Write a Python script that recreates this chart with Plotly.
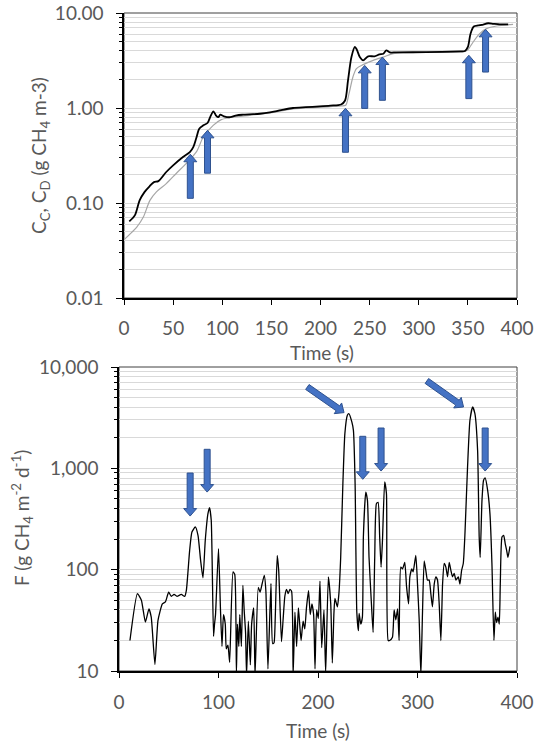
import math
import plotly.graph_objects as go

# ---------------- data ----------------
cc_time = [5.4, 11, 16, 21, 26, 30.5, 35, 43, 50, 60, 67, 70.5, 73.5, 76.6, 80.7, 85, 88, 91, 93.5, 96, 98,
           101.7, 108, 114.6, 121, 131.5, 138, 148.5, 160, 172, 185, 199, 210, 221, 225, 228, 231.5, 235, 237,
           240, 243.4, 248.5, 255, 260, 264, 267, 270.5, 277, 308, 342, 347, 350, 352.7, 356, 360.5, 364,
           370.7, 376, 382.6, 391]
cc_value = [0.064, 0.074, 0.107, 0.131, 0.15, 0.166, 0.17, 0.212, 0.249, 0.305, 0.344, 0.388, 0.48, 0.606,
            0.657, 0.695, 0.817, 0.923, 0.837, 0.80, 0.85, 0.817, 0.80, 0.837, 0.85, 0.86, 0.87, 0.90, 0.95,
            1.0, 1.02, 1.04, 1.06, 1.09, 1.20, 1.955, 3.44, 4.39, 4.11, 3.44, 3.17, 3.5, 3.5, 3.67, 3.73, 4.05,
            3.85, 3.85, 3.88, 3.95, 3.98, 4.39, 6.06, 7.2, 7.4, 7.5, 7.8, 7.7, 7.6, 7.6]

cd_time = [0, 6, 13, 19.7, 26.4, 33, 43, 53.6, 63.7, 74, 80.7, 90.8, 99, 111, 128, 148.5, 172, 200, 221,
           225.7, 229, 233, 236.6, 243.4, 253.6, 263.8, 274, 284, 308, 347, 350, 355.4, 362, 369, 379, 396]
cd_value = [0.041, 0.047, 0.0558, 0.0712, 0.1066, 0.131, 0.16, 0.207, 0.263, 0.35, 0.495, 0.657, 0.754,
            0.80, 0.837, 0.886, 0.98, 1.02, 1.05, 1.07, 1.415, 2.12, 2.6, 2.86, 3.17, 3.44, 3.73, 3.82, 3.85,
            3.95, 4.11, 4.95, 6.06, 6.85, 7.3, 7.6]

f_time = [11, 18.5, 22.5, 26.5, 30.1, 32.4, 36.1, 39.2, 43.6, 46.6, 49.9, 52.6, 55.3, 58.3, 62.6, 66, 67.7,
          71, 73.3, 76.7, 79.4, 82, 84.4, 86.7, 89.4, 91, 92.7, 95, 96, 97, 100, 102, 103.5, 105, 106.8, 107.8,
          109.5, 111.2, 114.6, 116.3, 118, 119, 120.4, 121.4, 123, 124.5, 125.8, 127.2, 128.2, 130, 132, 133.3,
          135.4, 136.7, 140, 141.8, 143.5, 146, 147.6, 149.7, 152.7, 154.4, 155.8, 157, 159, 160.5, 163.3, 165,
          166.7, 168.4, 170, 171.8, 173.5, 175, 176.8, 178.5, 180.3, 181.6, 183, 185, 186.7, 188.4, 190.5,
          192.2, 193.9, 195.6, 197, 198.6, 200.3, 202, 203.7, 206, 207.7, 210.4, 212.8, 214.4, 216, 217,
          219.5, 221, 222.8, 225, 227, 229.5, 231, 234, 235.6, 237.3, 239, 240.6, 241.3, 243, 244.6, 245.6,
          248, 249.7, 251.3, 253.7, 255.4, 257, 258.7, 260.4, 262, 263.4, 264.8, 267, 268.8, 270.5, 272,
          274.8, 276.5, 278.2, 280, 281.5, 283.2, 285, 287.2, 289, 291, 292.3, 294.3, 295.6, 298.3, 300,
          301.7, 303.4, 305, 306.7, 308.4, 310, 311.7, 313.4, 315, 316.8, 318.5, 320.1, 321.8, 323.5, 325.2,
          326.8, 328.5, 330.2, 331.9, 333.6, 335.2, 336.9, 338.6, 341, 342.6, 344.3, 346, 347.7, 350.3,
          352.7, 355.4, 357.7, 360.4, 362, 363, 364.8, 366.4, 368, 370.5, 372.8, 374.8, 376.8, 378.2, 379.5,
          380.9, 382.2, 383.2, 384.9, 386.6, 388.2, 389.6, 390.9, 392.9]
f_value = [20, 58, 50, 30.4, 41, 34, 11.6, 31.6, 46, 48, 60, 54.5, 57, 54.5, 57, 54.5, 62.5,
           155, 235, 264, 218, 124, 83, 195, 357, 409, 307, 22, 29, 36, 161, 40, 17.5, 36, 29, 16.5,
           18, 12.2, 95, 90, 9.5, 29, 17.5, 36, 17.5, 70, 40, 24, 9, 31, 11.5, 29,
           42, 9, 67, 60, 70, 88, 62, 10.5, 73, 18.6, 19, 33, 138, 98, 19.5, 33,
           55, 64, 58, 64, 61, 9, 38, 17.5, 42, 29, 20, 31, 26, 42, 62,
           36, 46, 36, 10.5, 40, 33, 77, 17, 40, 9.5, 85, 46, 12, 37, 52,
           43, 58, 132, 706, 2200, 3340, 3470, 2870, 2370, 706, 38, 25, 37, 29, 34, 210,
           583, 483, 132, 46, 24, 132, 448, 462, 210, 106, 195, 733, 562, 20, 20,
           21.5, 40, 32, 41, 20, 106, 102, 118, 68, 46, 85, 102, 95, 138, 72,
           32, 9, 37, 122, 98, 79, 79, 58, 43, 72, 85, 79, 46, 20, 72,
           115, 106, 85, 118, 98, 85, 92, 79, 85, 72, 98, 115, 227, 1030,
           2980, 4030, 3470, 1510, 210, 132, 483, 762, 805, 607, 357, 115, 20, 38, 30,
           34, 29, 72, 210, 218, 180, 155, 132, 170]

# arrows: (tail time, tail value, tip time, tip value)
top_arrows = [(67.5, 0.112, 67.5, 0.326), (85, 0.206, 85, 0.582), (225.4, 0.342, 225.4, 0.993),
              (245, 0.99, 245, 2.81), (263, 1.205, 263, 3.44), (351, 1.256, 351, 3.59),
              (368, 2.39, 368, 6.73)]
bottom_arrows = [(71.5, 899, 71.5, 338), (88.6, 1541, 88.6, 583), (189.3, 6350, 226.2, 3548),
                 (245, 2070, 245, 779), (263.4, 2500, 263.4, 940), (309.4, 7280, 346.3, 4030),
                 (368, 2500, 368, 940)]

top_ticks = [0.01, 0.1, 1, 10]
top_ticktext = ["0.01", "0.10", "1.00", "10.00"]
bot_ticks = [10, 100, 1000, 10000]
bot_ticktext = ["10", "100", "1,000", "10,000"]

# ---------------- layout geometry ----------------
W, H = 536, 744
TOP = dict(x0=124, x1=517, ytop=13, ybot=298, lo=-2, hi=1)
BOT = dict(x0=119, x1=517, ytop=367, ybot=671, lo=1, hi=4)
XR = (0, 400)

FONT = "Lato, 'Open Sans', sans-serif"
GREY = "#595959"
GRID = "#d9d9d9"


def minor_vals(lo, hi):
    out = []
    for d in range(lo, hi):
        for m in range(2, 10):
            out.append(m * 10 ** d)
    return out


def to_px(t, v, g):
    px = g["x0"] + (t - XR[0]) / (XR[1] - XR[0]) * (g["x1"] - g["x0"])
    py = g["ybot"] - (math.log10(v) - g["lo"]) / (g["hi"] - g["lo"]) * (g["ybot"] - g["ytop"])
    return px, py


def arrow_path(a, g, shaft=3.0, head=6.5, hlen=7.5):
    tx, ty = to_px(a[0], a[1], g)
    hx, hy = to_px(a[2], a[3], g)
    L = math.hypot(hx - tx, hy - ty)
    dx, dy = (hx - tx) / L, (hy - ty) / L
    nx, ny = -dy, dx
    nkx, nky = hx - dx * hlen, hy - dy * hlen
    pts = [
        (tx + nx * shaft, ty + ny * shaft),
        (nkx + nx * shaft, nky + ny * shaft),
        (nkx + nx * head, nky + ny * head),
        (hx, hy),
        (nkx - nx * head, nky - ny * head),
        (nkx - nx * shaft, nky - ny * shaft),
        (tx - nx * shaft, ty - ny * shaft),
    ]
    s = "M " + " L ".join(f"{px / W:.5f},{1 - py / H:.5f}" for px, py in pts) + " Z"
    return dict(type="path", path=s, xref="paper", yref="paper",
                fillcolor="#4472C4", line=dict(color="#2F528F", width=1), layer="above")


fig = go.Figure()
fig.add_trace(go.Scatter(x=cd_time, y=cd_value, mode="lines", xaxis="x", yaxis="y",
                         line=dict(color="#a6a6a6", width=1.2, shape="spline", smoothing=0.8),
                         showlegend=False))
fig.add_trace(go.Scatter(x=cc_time, y=cc_value, mode="lines", xaxis="x", yaxis="y",
                         line=dict(color="black", width=1.8, shape="spline", smoothing=0.8),
                         showlegend=False))
fig.add_trace(go.Scatter(x=f_time, y=f_value, mode="lines", xaxis="x2", yaxis="y2",
                         line=dict(color="black", width=1.3, shape="spline", smoothing=0.5),
                         showlegend=False))


def xdom(g):
    return [g["x0"] / W, g["x1"] / W]


def ydom(g):
    return [1 - g["ybot"] / H, 1 - g["ytop"] / H]


tickfont = dict(family=FONT, size=19, color=GREY)

xcommon = dict(range=list(XR), showgrid=False, zeroline=False, showline=True, linecolor="black",
               ticks="outside", ticklen=5, tickcolor="black", tickfont=tickfont, automargin=False)
ycommon = dict(type="log", showgrid=True, gridcolor=GRID, gridwidth=1, zeroline=False, showline=True,
               linecolor="black", linewidth=1.5, ticks="outside", ticklen=6, tickcolor="black",
               tickfont=tickfont, ticklabelstandoff=9, automargin=False)

fig.update_layout(
    width=W, height=H, margin=dict(l=0, r=0, t=0, b=0, pad=0, autoexpand=False), autosize=False,
    paper_bgcolor="white", plot_bgcolor="white", showlegend=False,
    xaxis=dict(xcommon, domain=xdom(TOP), anchor="y", dtick=50, tick0=0, linewidth=1.5,
               ticklabelstandoff=7),
    yaxis=dict(ycommon, domain=ydom(TOP), anchor="x", range=[TOP["lo"], TOP["hi"]],
               tickmode="array", tickvals=top_ticks, ticktext=top_ticktext,
               minor=dict(tickmode="array", tickvals=minor_vals(-2, 1), showgrid=True, gridcolor=GRID,
                          ticks="outside", ticklen=3, tickcolor="black")),
    xaxis2=dict(xcommon, domain=xdom(BOT), anchor="y2", dtick=100, tick0=0, linewidth=2,
                ticklabelstandoff=8),
    yaxis2=dict(ycommon, domain=ydom(BOT), anchor="x2", range=[BOT["lo"], BOT["hi"]],
                tickmode="array", tickvals=bot_ticks, ticktext=bot_ticktext,
                minor=dict(tickmode="array", tickvals=minor_vals(1, 4), showgrid=True, gridcolor=GRID,
                           ticks="outside", ticklen=3, tickcolor="black")),
)

shapes = []
for g, xr, yr in [(TOP, "x domain", "y domain"), (BOT, "x2 domain", "y2 domain")]:
    shapes.append(dict(type="rect", xref=xr, yref=yr, x0=0, x1=1, y0=0, y1=1,
                       line=dict(color="#404040", width=1), layer="below"))
for a in top_arrows:
    shapes.append(arrow_path(a, TOP))
for a in bottom_arrows:
    shapes.append(arrow_path(a, BOT))
fig.update_layout(shapes=shapes)

titlefont = dict(family=FONT, size=19, color=GREY)
fig.add_annotation(text="Time (s)", x=322 / W, y=1 - 352 / H, xref="paper", yref="paper",
                   showarrow=False, font=titlefont, xanchor="center", yanchor="middle")
fig.add_annotation(text="Time (s)", x=318 / W, y=1 - 730 / H, xref="paper", yref="paper",
                   showarrow=False, font=titlefont, xanchor="center", yanchor="middle")
fig.add_annotation(text="C<sub>C</sub>, C<sub>D</sub> (g CH<sub>4</sub> m-3)", x=40 / W, y=1 - 156 / H,
                   xref="paper", yref="paper", showarrow=False, font=titlefont, textangle=-90,
                   xanchor="center", yanchor="middle")
fig.add_annotation(text="F (g CH<sub>4</sub> m<sup>-2</sup> d<sup>-1</sup>)", x=22 / W, y=1 - 518 / H,
                   xref="paper", yref="paper", showarrow=False, font=titlefont, textangle=-90,
                   xanchor="center", yanchor="middle")

fig.write_html("out.html", config={"displayModeBar": False},
               post_script="document.body.style.margin='0';")
